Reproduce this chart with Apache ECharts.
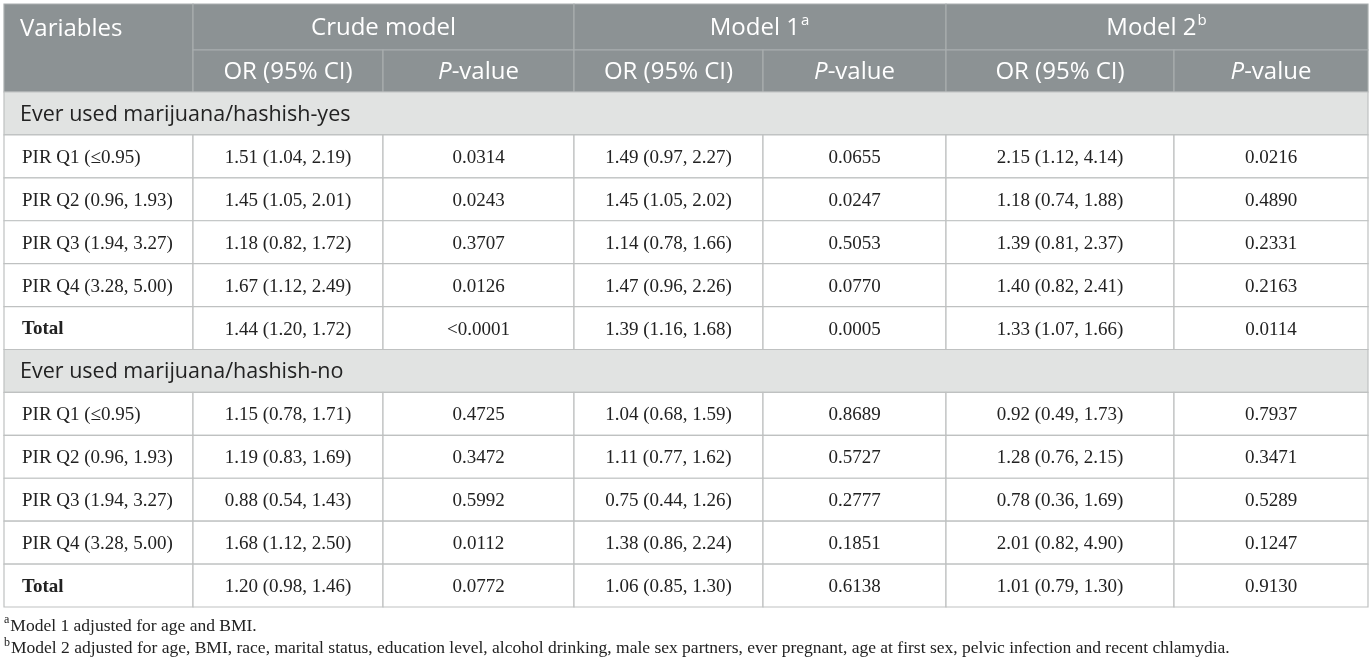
<!DOCTYPE html>
<html>
<meta charset="utf-8" />

<head>
  <script src="https://cdn.jsdelivr.net/npm/echarts@6.0.0/dist/echarts.min.js"></script>
  <style>
    html, body { margin: 0; padding: 0; background: #fff; }
    .chart { width: 1372px; height: 663px; }
  </style>
</head>

<body>
  <div class="chart" id="table-chart"></div>
  <script>
    const groupHeaders = ["Crude model", "Model 1", "Model 2"];
    const groupMarks = ["", "a", "b"];
    const subHeaders = ["OR (95% CI)", "P-value"];
    const sections = ["Ever used marijuana/hashish-yes", "Ever used marijuana/hashish-no"];
    const variables = ["PIR Q1 (≤0.95)", "PIR Q2 (0.96, 1.93)", "PIR Q3 (1.94, 3.27)", "PIR Q4 (3.28, 5.00)", "Total"];

    const crudeOrYes = ["1.51 (1.04, 2.19)", "1.45 (1.05, 2.01)", "1.18 (0.82, 1.72)", "1.67 (1.12, 2.49)", "1.44 (1.20, 1.72)"];
    const crudePYes = ["0.0314", "0.0243", "0.3707", "0.0126", "<0.0001"];
    const m1OrYes = ["1.49 (0.97, 2.27)", "1.45 (1.05, 2.02)", "1.14 (0.78, 1.66)", "1.47 (0.96, 2.26)", "1.39 (1.16, 1.68)"];
    const m1PYes = ["0.0655", "0.0247", "0.5053", "0.0770", "0.0005"];
    const m2OrYes = ["2.15 (1.12, 4.14)", "1.18 (0.74, 1.88)", "1.39 (0.81, 2.37)", "1.40 (0.82, 2.41)", "1.33 (1.07, 1.66)"];
    const m2PYes = ["0.0216", "0.4890", "0.2331", "0.2163", "0.0114"];

    const crudeOrNo = ["1.15 (0.78, 1.71)", "1.19 (0.83, 1.69)", "0.88 (0.54, 1.43)", "1.68 (1.12, 2.50)", "1.20 (0.98, 1.46)"];
    const crudePNo = ["0.4725", "0.3472", "0.5992", "0.0112", "0.0772"];
    const m1OrNo = ["1.04 (0.68, 1.59)", "1.11 (0.77, 1.62)", "0.75 (0.44, 1.26)", "1.38 (0.86, 2.24)", "1.06 (0.85, 1.30)"];
    const m1PNo = ["0.8689", "0.5727", "0.2777", "0.1851", "0.6138"];
    const m2OrNo = ["0.92 (0.49, 1.73)", "1.28 (0.76, 2.15)", "0.78 (0.36, 1.69)", "2.01 (0.82, 4.90)", "1.01 (0.79, 1.30)"];
    const m2PNo = ["0.7937", "0.3471", "0.5289", "0.1247", "0.9130"];

    const footnotes = [
      ["a", "Model 1 adjusted for age and BMI."],
      ["b", "Model 2 adjusted for age, BMI, race, marital status, education level, alcohol drinking, male sex partners, ever pregnant, age at first sex, pelvic infection and recent chlamydia."]
    ];

    // ---- layout (axis units = pixels) ----
    const colEdges = [4, 193, 383, 574, 763, 946, 1174, 1368];
    const tableTop = 4, head1 = 50, head2 = 92, rowH = (607 - 92) / 12;
    const headFill = "#8c9294", headLine = "#a9aeaf";
    const sectionFill = "#e1e3e2", border = "#bfc1c1";
    const sansFont = "'Open Sans', sans-serif";
    const serifFont = "'Liberation Serif', 'Times New Roman', serif";

    const cells = [];
    function cell(x0, y0, x1, y1, text, opt) {
      cells.push(Object.assign({ x0, y0, x1, y1, text, dy: 0 }, opt));
    }

    // header
    const headStyle = { fill: headFill, stroke: headLine, color: "#ffffff", font: sansFont, size: 24, dy: 1.5 };
    cell(colEdges[0], tableTop, colEdges[1], head2, "Variables", Object.assign({}, headStyle, { align: "left", ty: 28, pad: 16 }));
    groupHeaders.forEach((g, i) => {
      const text = groupMarks[i] ? "{m|" + g + "}{s|" + groupMarks[i] + "}" : g;
      cell(colEdges[1 + 2 * i], tableTop, colEdges[3 + 2 * i], head1, text, Object.assign({ align: "center" }, headStyle));
      subHeaders.forEach((s, j) => {
        const t = j === 1 ? "{i|P}-value" : s;
        cell(colEdges[1 + 2 * i + j], head1, colEdges[2 + 2 * i + j], head2, t, Object.assign({ align: "center" }, headStyle));
      });
    });

    // body
    const sectionCols = [
      [crudeOrYes, crudePYes, m1OrYes, m1PYes, m2OrYes, m2PYes],
      [crudeOrNo, crudePNo, m1OrNo, m1PNo, m2OrNo, m2PNo]
    ];
    let r = 0;
    sections.forEach((sec, si) => {
      const y0 = head2 + r * rowH;
      cell(colEdges[0], y0, colEdges[7], y0 + rowH, sec,
        { align: "left", pad: 16, fill: sectionFill, stroke: border, color: "#222", font: sansFont, size: 21.5, dy: 1 });
      r++;
      variables.forEach((v, vi) => {
        const ya = head2 + r * rowH, yb = ya + rowH;
        const bold = v === "Total";
        cell(colEdges[0], ya, colEdges[1], yb, v,
          { align: "left", pad: 18, fill: "#fff", stroke: border, color: "#222", font: serifFont, size: 19, bold, dy: 1.5 });
        sectionCols[si].forEach((col, ci) => {
          cell(colEdges[1 + ci], ya, colEdges[2 + ci], yb, col[vi],
            { align: "center", fill: "#fff", stroke: border, color: "#222", font: serifFont, size: 19, dy: 1.5 });
        });
        r++;
      });
    });

    // footnotes
    footnotes.forEach((f, i) => {
      const yc = 626 + i * 22.5;
      cell(3, yc - 11, 1368, yc + 11, "{s|" + f[0] + "}{m|" + f[1] + "}",
        { align: "left", pad: 0, fill: null, stroke: null, color: "#222", font: serifFont, size: 17.5, note: true });
    });

    function renderItem(params, api) {
      const c = cells[params.dataIndex];
      const p0 = api.coord([c.x0, c.y0]);
      const p1 = api.coord([c.x1, c.y1]);
      const children = [];
      if (c.fill || c.stroke) {
        children.push({
          type: "rect",
          shape: { x: p0[0], y: p0[1], width: p1[0] - p0[0], height: p1[1] - p0[1] },
          style: { fill: c.fill || "none", stroke: c.stroke || "none", lineWidth: 1.2 }
        });
      }
      const pad = c.pad != null ? c.pad : 17;
      const tx = c.align === "left" ? p0[0] + pad : (p0[0] + p1[0]) / 2;
      const ty = (c.ty != null ? api.coord([0, c.ty])[1] : (p0[1] + p1[1]) / 2) + c.dy;
      const supSize = c.note ? 12 : 15;
      children.push({
        type: "text",
        style: {
          x: tx,
          y: ty,
          text: c.text,
          align: c.align,
          verticalAlign: "middle",
          fill: c.color,
          fontFamily: c.font,
          fontSize: c.size,
          fontWeight: c.bold ? "bold" : "normal",
          rich: {
            m: { fontFamily: c.font, fontSize: c.size, fill: c.color, lineHeight: c.size + 6 },
            s: { fontFamily: c.font, fontSize: supSize, fill: c.color, verticalAlign: "top", padding: [0, 1, 0, 1] },
            i: { fontFamily: c.font, fontSize: c.size, fill: c.color, fontStyle: "italic" }
          }
        }
      });
      return { type: "group", children };
    }

    const myChart = echarts.init(document.getElementById("table-chart"));
    myChart.setOption({
      animation: false,
      grid: { left: 0, right: 0, top: 0, bottom: 0 },
      xAxis: { type: "value", min: 0, max: 1372, show: false },
      yAxis: { type: "value", min: 0, max: 663, inverse: true, show: false },
      series: [{
        type: "custom",
        renderItem,
        clip: false,
        silent: true,
        data: cells.map((c) => [c.x0, c.y0, c.x1, c.y1])
      }]
    });
  </script>
</body>
</html>
